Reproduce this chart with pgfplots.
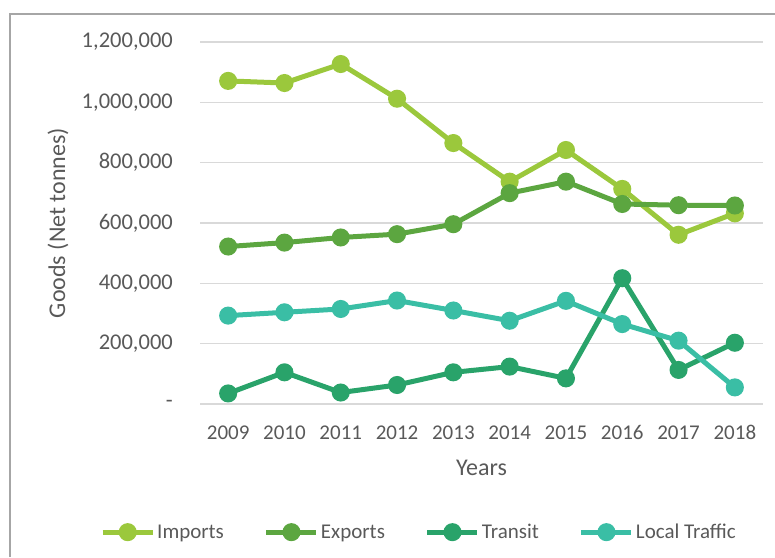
\documentclass[border=0pt]{standalone}
\usepackage{fontspec}
\setmainfont{Carlito}
\usepackage{pgfplots}
\pgfplotsset{compat=1.18}

\definecolor{imp}{RGB}{155,200,60}
\definecolor{exp}{RGB}{92,166,64}
\definecolor{tra}{RGB}{41,163,106}
\definecolor{loc}{RGB}{58,190,165}
\definecolor{txt}{RGB}{89,89,89}
\definecolor{gridc}{RGB}{217,217,217}
\definecolor{frame}{RGB}{166,166,166}

\begin{document}
\begin{tikzpicture}
\useasboundingbox (0,0) rectangle (775pt,557pt);
\draw[frame, line width=2pt] (10pt,0pt) -- (10pt,543pt) -- (775pt,543pt);
\begin{axis}[
    at={(200pt,153pt)}, anchor=south west,
    width=563pt, height=362pt, scale only axis,
    xmin=2008.5, xmax=2018.5, ymin=0, ymax=1200000,
    xtick={2009,2010,2011,2012,2013,2014,2015,2016,2017,2018},
    xticklabels={2009,2010,2011,2012,2013,2014,2015,2016,2017,2018},
    ytick={0,200000,400000,600000,800000,1000000,1200000},
    yticklabels={{-\hspace{19pt}},{200,000},{400,000},{600,000},{800,000},{1,000,000},{1,200,000}},
    scaled y ticks=false,
    axis line style={draw=none},
    major tick length=0pt,
    ymajorgrids=true, grid style={gridc, line width=1.5pt},
    xticklabel style={anchor=base, yshift=-35pt, font=\fontsize{21}{25}\selectfont, text=txt},
    yticklabel style={anchor=east, inner sep=0pt, xshift=-27pt, font=\fontsize{22.5}{26}\selectfont, text=txt},
    xlabel={Years}, ylabel={Goods (Net tonnes)},
    xlabel style={at={(axis description cs:0.5,-0.177)}, anchor=center, font=\fontsize{24}{28}\selectfont, text=txt},
    ylabel style={at={(axis description cs:-0.252,0.5)}, anchor=center, font=\fontsize{24}{28}\selectfont, text=txt},
    clip=false,
    legend columns=4,
    legend style={at={(rel axis cs:0.389,-0.354)}, anchor=center, draw=none, fill=none,
        font=\fontsize{21}{25}\selectfont, text=txt,
        /tikz/every even column/.append style={column sep=38pt},
        nodes={inner sep=2pt}},
    legend image code/.code={\draw[mark repeat=2, mark phase=2] plot coordinates {(0pt,0pt) (25pt,0pt) (50pt,0pt)};},
    every axis plot/.append style={line width=5pt, mark=*, mark size=6.5pt, mark options={solid}},
]
\addplot[imp, mark options={fill=imp, draw=imp}] coordinates {
    (2009,1071000) (2010,1064000) (2011,1127000) (2012,1012000) (2013,865000)
    (2014,737000) (2015,842000) (2016,713000) (2017,561000) (2018,632000)};
\addlegendentry{Imports}
\addplot[exp, mark options={fill=exp, draw=exp}] coordinates {
    (2009,522000) (2010,535000) (2011,552000) (2012,563000) (2013,596000)
    (2014,699000) (2015,737000) (2016,663000) (2017,659000) (2018,658000)};
\addlegendentry{Exports}
\addplot[tra, mark options={fill=tra, draw=tra}] coordinates {
    (2009,35000) (2010,105000) (2011,38000) (2012,63000) (2013,105000)
    (2014,124000) (2015,85000) (2016,417000) (2017,113000) (2018,203000)};
\addlegendentry{Transit}
\addplot[loc, mark options={fill=loc, draw=loc}] coordinates {
    (2009,293000) (2010,304000) (2011,315000) (2012,343000) (2013,310000)
    (2014,276000) (2015,342000) (2016,265000) (2017,210000) (2018,55000)};
\addlegendentry{Local Traffic}
\end{axis}
\end{tikzpicture}
\end{document}
